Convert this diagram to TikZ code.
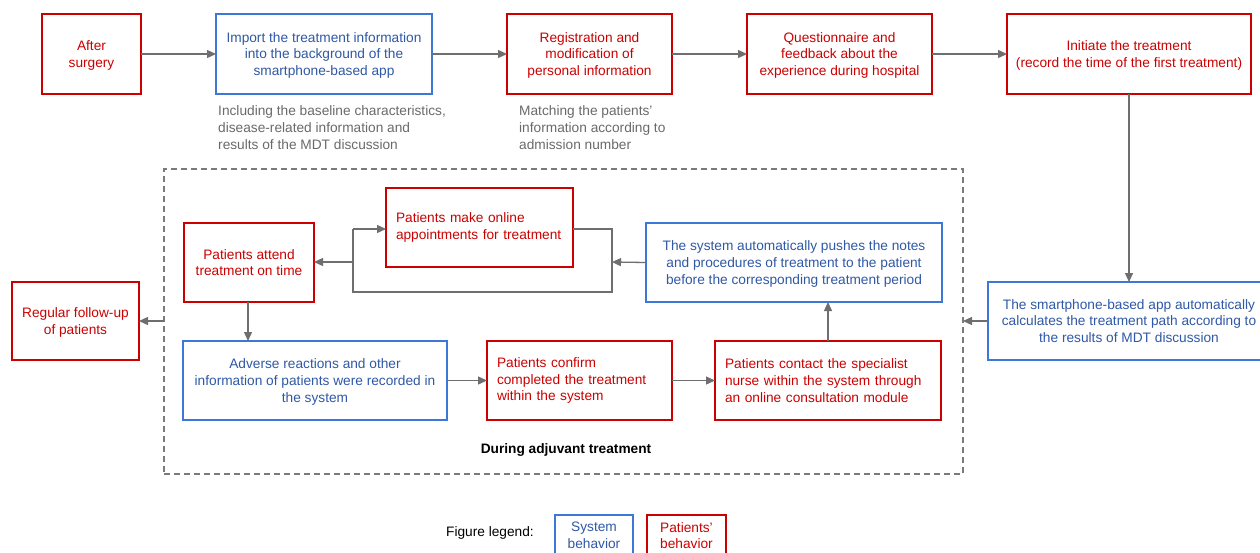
\documentclass[tikz,border=0pt]{standalone}
\usepackage{fontspec}
\setmainfont{Liberation Sans}
\usetikzlibrary{arrows.meta}
\definecolor{rd}{HTML}{CC0000}
\definecolor{bl}{HTML}{3C78D8}
\definecolor{blt}{HTML}{2F58A6}
\definecolor{ln}{HTML}{6E6E6E}
\definecolor{nt}{HTML}{6A6A6A}
\definecolor{dsh}{HTML}{7A7A7A}
\tikzset{
  base/.style={draw, line width=1.8pt, inner sep=4pt, outer sep=0pt,
    font=\fontsize{13.7}{16.6}\selectfont},
  pbox/.style={base, draw=rd, text=rd, align=center, text depth=0pt},
  sbox/.style={base, draw=bl, text=blt, align=center, text depth=0pt},
  pleft/.style={base, draw=rd, text=rd, align=left},
  note/.style={text=nt, font=\fontsize{13.7}{16.6}\selectfont, align=left, inner sep=0pt, anchor=west},
  arr/.style={draw=ln, line width=1.3pt, -{Triangle[length=9pt,width=8pt]}},
  lin/.style={draw=ln, line width=1.3pt},
  phasebox/.style={draw=dsh, line width=1.5pt, dash pattern=on 6pt off 4pt, inner sep=0pt, outer sep=0pt}
}
\begin{document}
\begin{tikzpicture}[x=1pt,y=-1pt]
\clip (0,0) rectangle (1260,552);
\fill[white] (0,0) rectangle (1260,552);

% top row
\node[pbox, minimum width=99, minimum height=80] (after) at (91.5,54) {After\\surgery};
\node[sbox, minimum width=216, minimum height=80] (import) at (324,54) {Import the treatment information\\into the background of the\\smartphone-based app};
\node[pbox, minimum width=165, minimum height=80] (reg) at (589.5,54) {Registration and\\modification of\\personal information};
\node[pbox, minimum width=185, minimum height=80] (quest) at (839.5,54) {Questionnaire and\\feedback about the\\experience during hospital};
\node[pbox, minimum width=244, minimum height=80] (init) at (1129,54) {Initiate the treatment\\(record the time of the first treatment)};

\node[note] (note1) at (218,127.5) {Including the baseline characteristics,\\disease-related information and\\results of the MDT discussion};
\node[note] (note2) at (519,127.5) {Matching the patients'\\information according to\\admission number};

% phase frame
\node[phasebox, minimum width=799, minimum height=305] (phase) at (563.5,321.5) {};
\node[font=\fontsize{13.7}{16}\selectfont\bfseries, inner sep=0pt] (phlabel) at (566,450) {During adjuvant treatment};

% right and left boxes
\node[sbox, minimum width=282, minimum height=78] (smart) at (1129,321) {The smartphone-based app automatically\\calculates the treatment path according to\\the results of MDT discussion};
\node[pbox, minimum width=127, minimum height=78] (follow) at (75.5,321) {Regular follow-up\\of patients};

% inner boxes
\node[pbox, minimum width=130, minimum height=79] (attend) at (249,262.5) {Patients attend\\treatment on time};
\node[pleft, minimum width=187, minimum height=79, text width=167] (online) at (479.5,227.5) {Patients make online\\appointments for treatment};
\node[sbox, minimum width=296, minimum height=79] (push) at (794,262.5) {The system automatically pushes the notes\\and procedures of treatment to the patient\\before the corresponding treatment period};
\node[sbox, minimum width=264, minimum height=79] (adverse) at (315,380.5) {Adverse reactions and other\\information of patients were recorded in\\the system};
\node[pleft, minimum width=185, minimum height=79, text width=165] (confirm) at (579.5,380.5) {Patients confirm\\completed the treatment\\within the system};
\node[pleft, minimum width=226, minimum height=79, text width=206] (contact) at (828,380.5) {Patients contact the specialist\\nurse within the system through\\an online consultation module};

% legend
\node[font=\fontsize{13.7}{16}\selectfont, inner sep=0pt] (legtxt) at (490,533) {Figure legend:};
\node[sbox, minimum width=78, minimum height=41, inner sep=2pt] (legs) at (594,535.5) {System\\behavior};
\node[pbox, minimum width=79, minimum height=41, inner sep=2pt] (legp) at (686.5,535.5) {Patients'\\behavior};

% coordinates for loop
\coordinate (lt) at (353,229);
\coordinate (lm) at (353,262);
\coordinate (lb) at (353,292);
\coordinate (rt) at (612,229);
\coordinate (rm) at (612,262);
\coordinate (rb) at (612,292);

% connectors top row
\draw[arr] (after.east) -- (import.west);
\draw[arr] (import.east) -- (reg.west);
\draw[arr] (reg.east) -- (quest.west);
\draw[arr] (quest.east) -- (init.west);
\draw[arr] (init.south) -- (smart.north);
\draw[arr] (smart.west) -- (phase.east |- smart.west);
\draw[arr] (phase.west |- follow.east) -- (follow.east);

% loop
\draw[arr] (push.west) -- (rm);
\draw[lin] (online.east |- rt) -- (rt) -- (rb) -- (lb) -- (lt);
\draw[arr] (lt) -- (online.west |- lt);
\draw[arr] (lm) -- (attend.east |- lm);

% lower chain
\draw[arr] (248,302) -- (248,341);
\draw[arr] (adverse.east) -- (confirm.west);
\draw[arr] (confirm.east) -- (contact.west);
\draw[arr] (contact.north) -- (contact.north |- push.south);
\end{tikzpicture}
\end{document}
